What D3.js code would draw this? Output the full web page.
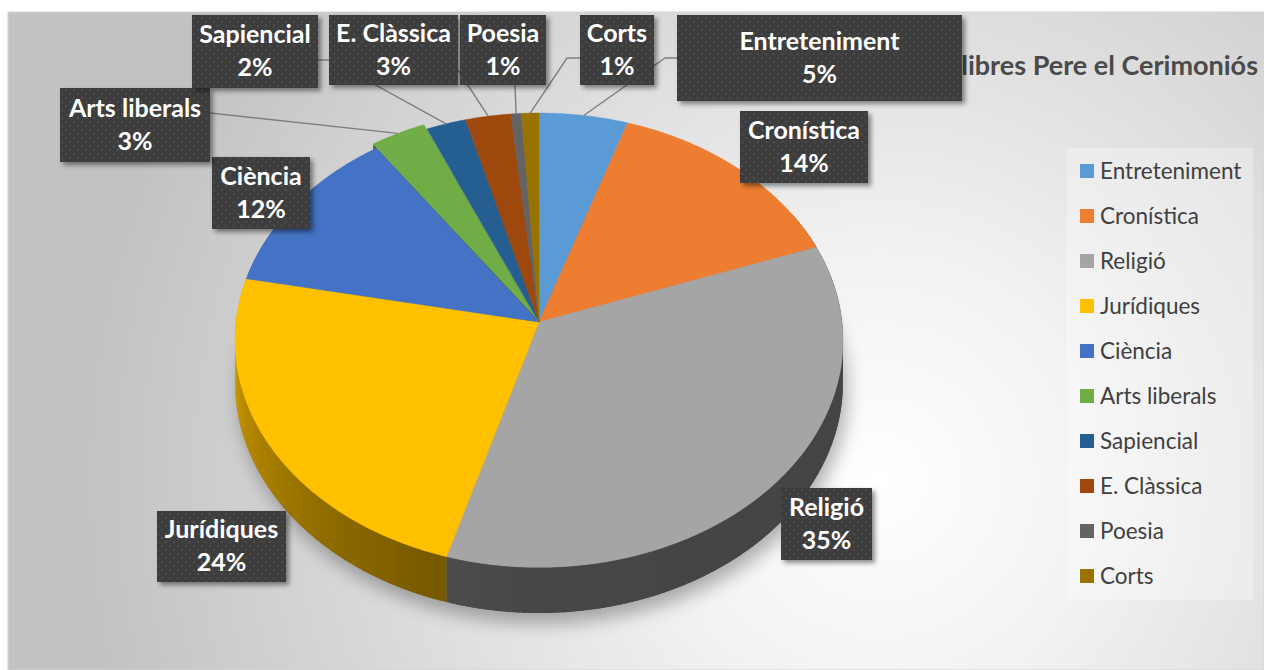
<!DOCTYPE html>
<html>
<head>
<meta charset="utf-8">
<script src="https://cdn.jsdelivr.net/npm/d3@7"></script>
<style>
  body { margin: 0; background: #fff; }
  svg { display: block; }
</style>
</head>
<body>
<div id="vis"></div>
<script>
// data
var categories = ['Entreteniment', 'Cronística', 'Religió', 'Jurídiques', 'Ciència',
	'Arts liberals', 'Sapiencial', 'E. Clàssica', 'Poesia', 'Corts'];
var values = [5.1, 14.4, 35.1, 23.6, 12.2, 3.2, 2.3, 2.6, 0.6, 1.0];
var titleText = 'llibres Pere el Cerimoniós';

var colors = ['#5b9bd5', '#ed7d31', '#a5a5a5', '#ffc000', '#4472c4',
	'#70ad47', '#255e91', '#9e480e', '#636363', '#997300'];

// label boxes [x, y, w, h] and leader line points (elbow, anchor)
var boxes = {
	'Entreteniment': { b: [677, 15, 285, 86], lead: [[665, 58], [677, 58]] },
	'Cronística':    { b: [740, 111, 128, 72] },
	'Religió':       { b: [781, 488, 91, 72] },
	'Jurídiques':    { b: [157, 511, 129, 71] },
	'Ciència':       { b: [212, 157, 98, 72] },
	'Arts liberals': { b: [60, 88, 150, 74], lead: [[210, 113]] },
	'Sapiencial':    { b: [192, 15, 126, 73], lead: [[330, 60], [318, 60]] },
	'E. Clàssica':   { b: [329, 15, 129, 70], lead: [[458, 70]] },
	'Poesia':        { b: [460, 15, 86, 70], lead: [[515, 85]] },
	'Corts':         { b: [580, 15, 74, 70], lead: [[567, 58], [580, 58]] }
};

var width = 1264, height = 670;
var cx = 539, cy = 322, R = 303, RY = 225.7, P = 0.08, DEPTH = 42;
var exploded = 'Arts liberals', explodeDist = 0.025;
var font = 'Lato, "Open Sans", sans-serif';

var svg = d3.select('#vis').append('svg')
	.attr('width', width)
	.attr('height', height);

var defs = svg.append('defs');

var bg = defs.append('radialGradient')
	.attr('id', 'bg')
	.attr('gradientUnits', 'userSpaceOnUse')
	.attr('cx', 880).attr('cy', 480).attr('r', 800);
bg.append('stop').attr('offset', 0).attr('stop-color', '#ffffff');
bg.append('stop').attr('offset', 0.28).attr('stop-color', '#f2f2f2');
bg.append('stop').attr('offset', 1).attr('stop-color', '#c2c2c2');

var pat = defs.append('pattern')
	.attr('id', 'dots')
	.attr('patternUnits', 'userSpaceOnUse')
	.attr('width', 8).attr('height', 8);
pat.append('rect').attr('width', 8).attr('height', 8).attr('fill', '#3c3c3c');
pat.append('circle').attr('cx', 2).attr('cy', 2).attr('r', 0.9).attr('fill', '#565656');
pat.append('circle').attr('cx', 6).attr('cy', 6).attr('r', 0.9).attr('fill', '#565656');

var sh = defs.append('filter').attr('id', 'boxShadow')
	.attr('x', '-20%').attr('y', '-20%').attr('width', '150%').attr('height', '150%');
sh.append('feDropShadow').attr('dx', 3).attr('dy', 3)
	.attr('stdDeviation', 2.5).attr('flood-color', '#000').attr('flood-opacity', 0.45);

var blur = defs.append('filter').attr('id', 'pieShadow')
	.attr('x', '-20%').attr('y', '-20%').attr('width', '140%').attr('height', '140%');
blur.append('feGaussianBlur').attr('stdDeviation', 9);

// chart area
svg.append('rect')
	.attr('x', 8).attr('y', 12)
	.attr('width', width - 8).attr('height', height - 12)
	.attr('fill', 'url(#bg)')
	.attr('stroke', '#d4d4d4');

// title (partly covered by the label boxes)
svg.append('text')
	.attr('x', 1258).attr('y', 75)
	.attr('text-anchor', 'end')
	.attr('font-family', font)
	.attr('font-weight', 'bold')
	.attr('font-size', 27)
	.attr('fill', '#4a4a4a')
	.text(titleText);

// legend
var legend = svg.append('g');
legend.append('rect')
	.attr('x', 1067).attr('y', 148)
	.attr('width', 186).attr('height', 452)
	.attr('fill', '#ffffff').attr('fill-opacity', 0.3);

var ly = d3.scalePoint().domain(categories).range([171, 576]);

var li = legend.selectAll('g.li')
	.data(categories)
	.enter().append('g')
	.attr('class', 'li')
	.attr('transform', function(d) { return 'translate(1080,' + ly(d) + ')'; });
li.append('rect')
	.attr('y', -7).attr('width', 14).attr('height', 14)
	.attr('fill', function(d, i) { return colors[i]; });
li.append('text')
	.attr('x', 20).attr('dy', '0.35em')
	.attr('font-family', font)
	.attr('font-size', 22.5)
	.attr('fill', '#404040')
	.text(function(d) { return d; });

// pie geometry
var total = d3.sum(values);
var fmt = d3.format('.0%');
var arcs = d3.pie().sort(null).value(function(d) { return d; })(values);
arcs.forEach(function(a, i) {
	a.name = categories[i];
	a.color = colors[i];
	a.mid = (a.startAngle + a.endAngle) / 2;
	a.off = a.name === exploded
		? [explodeDist * Math.sin(a.mid), -explodeDist * Math.cos(a.mid)]
		: [0, 0];
});

function proj(ang, r, z, off) {
	var u = r * Math.sin(ang) + off[0],
		w = -r * Math.cos(ang) + off[1];
	var s = 1 / (1 - P * w);
	return [cx + R * u * s, cy + RY * w * s + z * s];
}

function arcPts(a0, a1, z, off) {
	var n = Math.max(2, Math.ceil((a1 - a0) / (Math.PI / 360)));
	var pts = [];
	for (var i = 0; i <= n; i++) pts.push(proj(a0 + (a1 - a0) * i / n, 1, z, off));
	return pts;
}

var line = d3.line();
var shade = d3.scaleLinear()
	.domain([60, 90, 180, 200, 270, 300])
	.range([2.5, 2.5, 2.4, 2.1, 0.5, 0.5])
	.clamp(true);

var pie = svg.append('g');

// shadow under the pie
pie.append('path')
	.attr('d', line(arcPts(0, 2 * Math.PI, DEPTH + 6, [0, 0])) + 'Z')
	.attr('transform', 'translate(4,4)')
	.attr('fill', '#000')
	.attr('fill-opacity', 0.3)
	.attr('filter', 'url(#pieShadow)');

// sides, in small overlapping segments for the shading
var sides = pie.append('g');
arcs.forEach(function(a) {
	var step = Math.PI / 180;
	for (var t = a.startAngle; t < a.endAngle; t += step) {
		var t1 = Math.min(a.endAngle, t + step * 1.8);
		var deg = (t + step / 2) * 180 / Math.PI;
		if (deg < 60 || deg > 300) continue;
		var top = arcPts(t, t1, 0, a.off),
			bot = arcPts(t, t1, DEPTH, a.off).reverse();
		sides.append('path')
			.attr('d', line(top.concat(bot)) + 'Z')
			.attr('fill', d3.color(a.color).darker(shade(deg)).formatHex());
	}
});

// walls of the pulled-out slice
arcs.filter(function(a) { return a.name === exploded; }).forEach(function(a) {
	[a.startAngle, a.endAngle].forEach(function(t) {
		var pts = [proj(t, 0, 0, a.off), proj(t, 1, 0, a.off),
			proj(t, 1, DEPTH, a.off), proj(t, 0, DEPTH, a.off)];
		pie.append('path')
			.attr('d', line(pts) + 'Z')
			.attr('fill', d3.color(a.color).darker(1.6));
	});
});

// tops
pie.selectAll('path.top')
	.data(arcs)
	.enter().append('path')
	.attr('class', 'top')
	.attr('d', function(a) {
		return line([proj(0, 0, 0, a.off)].concat(arcPts(a.startAngle, a.endAngle, 0, a.off))) + 'Z';
	})
	.attr('fill', function(a) { return a.color; })
	.attr('stroke', function(a) { return a.color; })
	.attr('stroke-width', 0.5);

// leader lines
var leads = svg.append('g');
arcs.forEach(function(a) {
	var bx = boxes[a.name];
	if (!bx.lead) return;
	var pts = [proj(a.mid, 1, 0, a.off)].concat(bx.lead);
	leads.append('path')
		.attr('d', line(pts))
		.attr('fill', 'none')
		.attr('stroke', '#7f7f7f')
		.attr('stroke-width', 1.4);
});

// data labels
var labels = svg.selectAll('g.lab')
	.data(arcs)
	.enter().append('g')
	.attr('class', 'lab');
labels.append('rect')
	.attr('x', function(a) { return boxes[a.name].b[0]; })
	.attr('y', function(a) { return boxes[a.name].b[1]; })
	.attr('width', function(a) { return boxes[a.name].b[2]; })
	.attr('height', function(a) { return boxes[a.name].b[3]; })
	.attr('fill', 'url(#dots)')
	.attr('filter', 'url(#boxShadow)');
labels.append('text')
	.attr('x', function(a) { var b = boxes[a.name].b; return b[0] + b[2] / 2; })
	.attr('y', function(a) { var b = boxes[a.name].b; return b[1] + b[3] / 2; })
	.attr('text-anchor', 'middle')
	.attr('font-family', font)
	.attr('font-weight', 'bold')
	.attr('font-size', 25)
	.attr('fill', '#ffffff')
	.each(function(a) {
		var t = d3.select(this);
		t.append('tspan').attr('x', t.attr('x')).attr('dy', '-0.33em').text(a.name);
		t.append('tspan').attr('x', t.attr('x')).attr('dy', '1.32em').text(fmt(a.value / total));
	});
</script>
</body>
</html>
